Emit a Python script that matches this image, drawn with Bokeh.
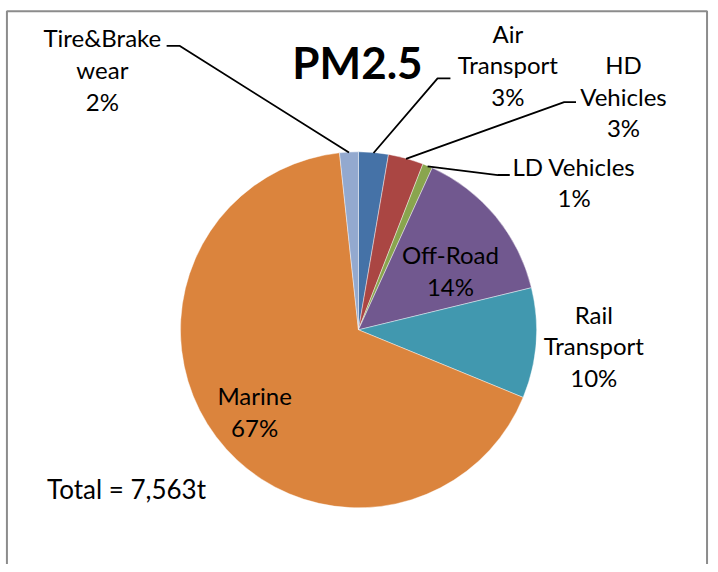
import numpy as np
from bokeh.plotting import figure
from bokeh.models import Range1d, ColumnDataSource
from bokeh.embed import file_html
from bokeh.resources import INLINE
from bokeh.core.properties import value

# ---------------- data ----------------
title = "PM2.5"
categories = ["Air Transport", "HD Vehicles", "LD Vehicles", "Off-Road",
              "Rail Transport", "Marine", "Tire&Brake wear"]
label_lines = [["Air", "Transport"], ["HD", "Vehicles"], ["LD Vehicles"],
               ["Off-Road"], ["Rail", "Transport"], ["Marine"],
               ["Tire&Brake", "wear"]]
shares = [2.7, 3.2, 0.9, 14.4, 10.0, 67.1, 1.7]   # percent
colors = ["#4572A7", "#AA4643", "#89A54E", "#71588F", "#4198AF", "#DB843D", "#93A9CF"]
total_text = "Total = 7,563t"

# ---------------- layout (reference pixel coordinates, 718x572) ----------------
W, H = 718, 572
CX, CY, R = 362, 334, 180
FONT = "Lato"
LABEL_SIZE = "24px"
LINE_GAP = 32
# first-line centre of each label block
label_pos = {
    "Air Transport": (513, 33),
    "HD Vehicles": (630, 65),
    "LD Vehicles": (580, 168),
    "Off-Road": (455, 258),
    "Rail Transport": (600, 318),
    "Marine": (257, 401),
    "Tire&Brake wear": (103, 38),
}
# leader lines: (text end, elbow)
leaders = {
    "Air Transport": ((455, 79), (442, 79)),
    "HD Vehicles": ((582, 103), (570, 103)),
    "LD Vehicles": ((515, 177), (503, 177)),
    "Tire&Brake wear": ((168, 46), (181, 46)),
}

p = figure(width=W - 8, height=H - 8, output_backend="svg", toolbar_location=None,
           x_range=Range1d(0, W), y_range=Range1d(-H, 0), min_border=0)
p.axis.visible = False
p.grid.visible = False
p.outline_line_color = None
p.background_fill_color = "white"
p.border_fill_color = "white"

# border of the chart area
p.line(x=[6.5, 6.5, 714.5, 714.5], y=[-H - 5, -11, -11, -H - 5], line_color="#8c8c8c", line_width=2)

# pie wedges (clockwise from 12 o'clock)
frac = np.array(shares) / sum(shares)
cum_end = np.cumsum(frac)
cum_start = cum_end - frac
start_angle = np.pi / 2 - 2 * np.pi * cum_start
end_angle = np.pi / 2 - 2 * np.pi * cum_end
src = ColumnDataSource(dict(cat=categories, start=start_angle, end=end_angle, color=colors))
p.wedge(x=CX, y=-CY, radius=R, start_angle="start", end_angle="end", direction="clock",
        fill_color="color", line_color="white", line_width=0.6, line_alpha=0.7, source=src)

# leader lines from label to slice mid-angle on the rim
mid_angle = np.pi / 2 - 2 * np.pi * (cum_start + frac / 2)
lx, ly = [], []
for i, c in enumerate(categories):
    if c in leaders:
        (x0, y0), (x1, y1) = leaders[c]
        rx = CX + R * np.cos(mid_angle[i])
        ry = CY - R * np.sin(mid_angle[i])
        lx.append([x0, x1, rx])
        ly.append([-y0, -y1, -ry])
p.multi_line(xs=lx, ys=ly, line_color="black", line_width=1.8)

# labels
tx, ty, tt = [], [], []
for i, c in enumerate(categories):
    x, y = label_pos[c]
    lines = label_lines[i] + [f"{round(shares[i])}%"]
    for k, t in enumerate(lines):
        tx.append(x)
        ty.append(-(y + k * LINE_GAP))
        tt.append(t)
p.text(x=tx, y=ty, text=tt, text_align="center", text_baseline="middle",
       text_font=value(FONT), text_font_size=LABEL_SIZE, text_color="black")

# title
p.text(x=[361], y=[-62], text=[title], text_align="center", text_baseline="middle",
       text_font=value(FONT), text_font_size="44px", text_font_style="bold", text_color="black")

# total
p.text(x=[47], y=[-495], text=[total_text], text_align="left", text_baseline="middle",
       text_font=value(FONT), text_font_size="26px", text_color="black")

open("out.html", "w").write(file_html(p, INLINE))
